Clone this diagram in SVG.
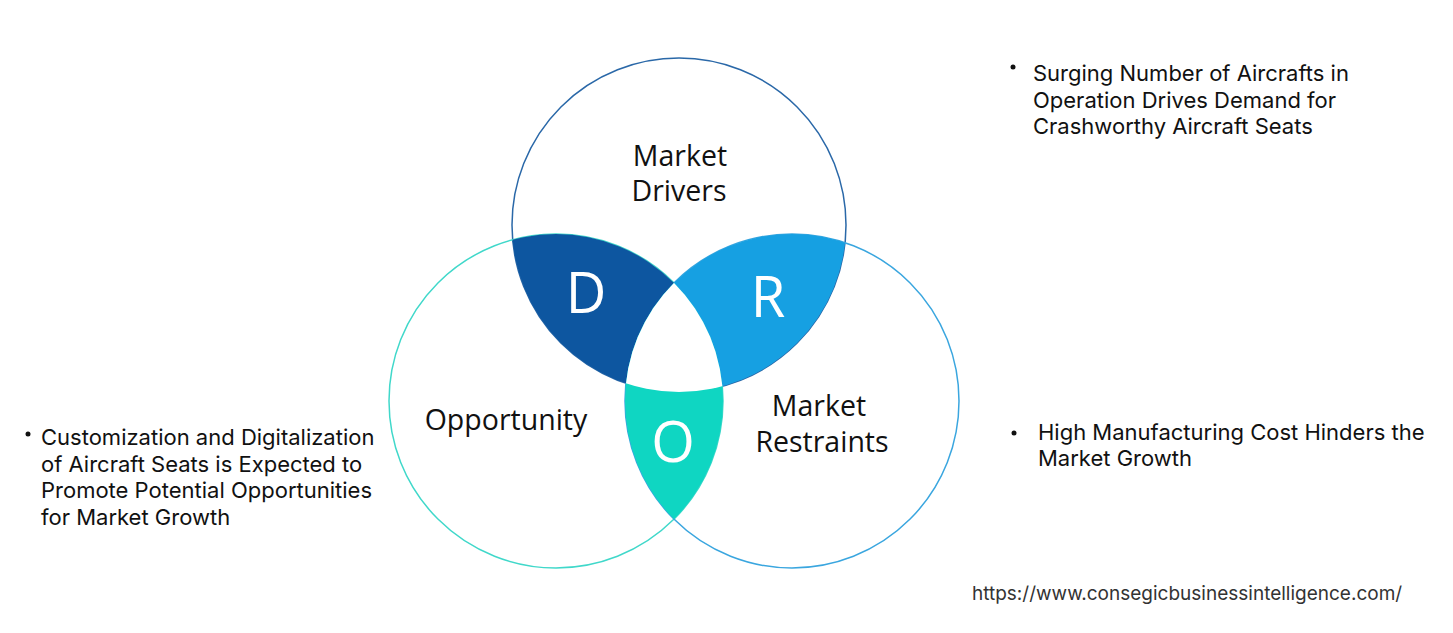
<svg xmlns="http://www.w3.org/2000/svg" width="1453" height="633" viewBox="0 0 1453 633">
<defs>
<clipPath id="cTop"><circle cx="679" cy="225" r="167"/></clipPath>
<clipPath id="cLeft"><circle cx="556" cy="401" r="167"/></clipPath>
<clipPath id="cRight"><circle cx="792" cy="401" r="167"/></clipPath>
</defs>
<style>
.lbl{font-family:"Open Sans","DejaVu Sans",sans-serif;font-size:28.5px;fill:#111;text-anchor:middle}
.big{font-family:"Open Sans","DejaVu Sans",sans-serif;font-size:56px;fill:#fff;text-anchor:middle}
.txt{font-family:Inter,"Liberation Sans",sans-serif;font-size:22px;fill:#111}
.url{font-family:Inter,"Liberation Sans",sans-serif;font-size:19px;fill:#333}
.ring{fill:none;stroke-width:1.5}
</style>
<rect width="1453" height="633" fill="#fff"/>
<g id="circles">
<circle class="ring" cx="679" cy="225" r="167" stroke="#2A68A8"/>
<circle class="ring" cx="556" cy="401" r="167" stroke="#40D8CA"/>
<circle class="ring" cx="792" cy="401" r="167" stroke="#3AA6DF"/>
</g>
<g id="D">
<g clip-path="url(#cLeft)"><circle cx="679" cy="225" r="167" fill="#0D56A0"/></g>
</g>
<g id="R">
<g clip-path="url(#cRight)"><circle cx="679" cy="225" r="167" fill="#16A0E2"/></g>
</g>
<g id="O">
<g clip-path="url(#cRight)"><circle cx="556" cy="401" r="167" fill="#0FD6C2"/></g>
</g>
<g id="center">
<g clip-path="url(#cRight)"><g clip-path="url(#cLeft)"><circle cx="679" cy="225" r="167" fill="#fff"/></g></g>
</g>
<g id="letters">
<text class="big" x="586" y="313">D</text>
<text class="big" x="768" y="317">R</text>
<text class="big" x="673" y="462">O</text>
</g>
<g id="drivers">
<text class="lbl" x="680" y="166">Market</text>
<text class="lbl" x="679" y="201">Drivers</text>
</g>
<g id="opportunity">
<text class="lbl" x="506" y="430">Opportunity</text>
</g>
<g id="restraints">
<text class="lbl" x="819" y="416">Market</text>
<text class="lbl" x="822" y="452">Restraints</text>
</g>
<g id="note-drivers">
<circle cx="1013" cy="67" r="2.5" fill="#111"/>
<text class="txt" x="1033" y="81">Surging Number of Aircrafts in</text>
<text class="txt" x="1033" y="108">Operation Drives Demand for</text>
<text class="txt" x="1033" y="134">Crashworthy Aircraft Seats</text>
</g>
<g id="note-opportunity">
<circle cx="28" cy="434" r="2.5" fill="#111"/>
<text class="txt" x="41" y="445">Customization and Digitalization</text>
<text class="txt" x="41" y="472">of Aircraft Seats is Expected to</text>
<text class="txt" x="41" y="498">Promote Potential Opportunities</text>
<text class="txt" x="41" y="525">for Market Growth</text>
</g>
<g id="note-restraints">
<circle cx="1014" cy="433" r="2.5" fill="#111"/>
<text class="txt" x="1038" y="440">High Manufacturing Cost Hinders the</text>
<text class="txt" x="1038" y="466">Market Growth</text>
</g>
<text class="url" x="972" y="600">https://www.consegicbusinessintelligence.com/</text>
</svg>
